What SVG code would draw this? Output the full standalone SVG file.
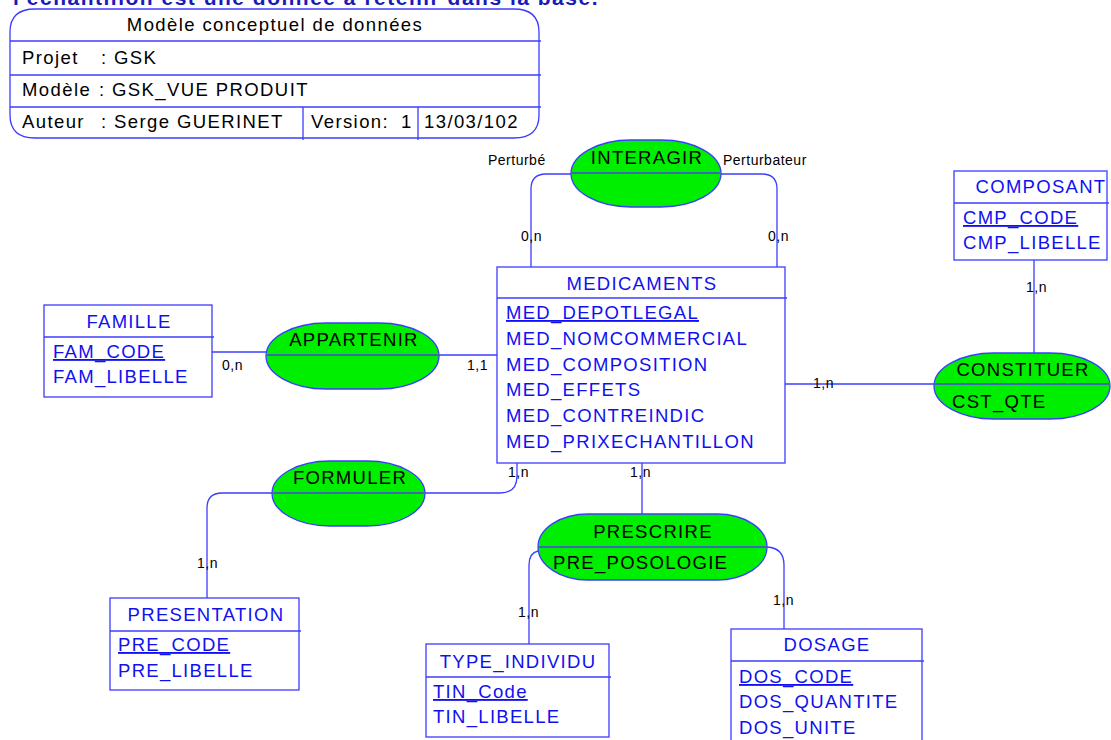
<svg xmlns="http://www.w3.org/2000/svg" width="1111" height="740" viewBox="0 0 1111 740">
<style>
text{font-family:"Liberation Sans",Arial,sans-serif}
.ent{fill:#fff;stroke:#3c3cff;stroke-width:1.3}
.sep{stroke:#3c3cff;stroke-width:1.3}
.et{font-size:18.5px;letter-spacing:1.3px;fill:#1010f0}
.mid{text-anchor:middle}
.pk{text-decoration:underline}
.rel{fill:#00ee00;stroke:#3c3cff;stroke-width:1.3}
.rsep{stroke:#3a6ab0;stroke-width:2}
.rt{font-size:18.5px;letter-spacing:1.3px;fill:#000}
.lnk{fill:none;stroke:#3c3cff;stroke-width:1.3}
.lbl{font-size:14px;letter-spacing:0.5px;fill:#000}
.tt{font-size:18.5px;letter-spacing:1.4px;fill:#000}
</style>
<text x="13" y="5" style="font-size:21px;font-weight:bold;letter-spacing:1.5px;fill:#1a1ab8">l'échantillon est une donnée à retenir dans la base.</text>
<g id="titre">
<path class="lnk" d="M35,9 H514 Q539,9 539,32 V115 Q539,138 514,138 H35 Q10,138 10,115 V32 Q10,9 35,9 Z"/>
<line class="sep" x1="10" y1="41" x2="541" y2="41"/>
<line class="sep" x1="10" y1="75" x2="541" y2="75"/>
<line class="sep" x1="10" y1="107" x2="541" y2="107"/>
<line class="sep" x1="303" y1="107" x2="303" y2="140"/>
<line class="sep" x1="418" y1="107" x2="418" y2="140"/>
<text class="tt mid" x="275" y="31">Modèle conceptuel de données</text>
<text class="tt" x="22" y="64">Projet</text>
<text class="tt" x="101" y="64">: GSK</text>
<text class="tt" x="22" y="96">Modèle</text>
<text class="tt" x="99" y="96">: GSK_VUE PRODUIT</text>
<text class="tt" x="22" y="128">Auteur</text>
<text class="tt" x="101" y="128">: Serge GUERINET</text>
<text class="tt" x="311" y="128">Version:</text>
<text class="tt" x="401" y="128">1</text>
<text class="tt" x="424" y="128">13/03/102</text>
</g>
<g id="connecteurs">
<path class="lnk" d="M571,174 H546 Q531,174 531,189 V267"/>
<path class="lnk" d="M721,174 H762 Q777,174 777,189 V267"/>
<path class="lnk" d="M212,352 H266"/>
<path class="lnk" d="M439,355 H497"/>
<path class="lnk" d="M785,384 H934"/>
<path class="lnk" d="M1034,260 V353"/>
<path class="lnk" d="M272,493 H222 Q207,493 207,508 V598"/>
<path class="lnk" d="M425,493 H500 Q517,493 517,476 V463"/>
<path class="lnk" d="M642,463 V514"/>
<path class="lnk" d="M538,551 Q529,553 529,565 V644"/>
<path class="lnk" d="M767,547 Q784,548 784,565 V629"/>
<text class="lbl" x="488" y="165">Perturbé</text>
<text class="lbl" x="723" y="165">Perturbateur</text>
<text class="lbl" x="521" y="241">0,n</text>
<text class="lbl" x="768" y="241">0,n</text>
<text class="lbl" x="222" y="370">0,n</text>
<text class="lbl" x="467" y="370">1,1</text>
<text class="lbl" x="1026" y="292">1,n</text>
<text class="lbl" x="813" y="388">1,n</text>
<text class="lbl" x="508" y="477">1,n</text>
<text class="lbl" x="630" y="477">1,n</text>
<text class="lbl" x="197" y="568">1,n</text>
<text class="lbl" x="518" y="617">1,n</text>
<text class="lbl" x="773" y="605">1,n</text>
</g>
<g id="INTERAGIR">
<rect class="rel" x="571" y="140" width="150" height="67" rx="60" ry="33.5"/>
<line class="rsep" x1="571" y1="173" x2="721" y2="173"/>
<text class="rt mid" x="647" y="164">INTERAGIR</text>
</g>
<g id="APPARTENIR">
<rect class="rel" x="266" y="323" width="173" height="66" rx="60" ry="33"/>
<line class="rsep" x1="266" y1="355" x2="439" y2="355"/>
<text class="rt mid" x="354" y="346">APPARTENIR</text>
</g>
<g id="FORMULER">
<rect class="rel" x="272" y="461" width="153" height="65" rx="58" ry="32.5"/>
<line class="rsep" x1="272" y1="493" x2="425" y2="493"/>
<text class="rt mid" x="350" y="484">FORMULER</text>
</g>
<g id="CONSTITUER">
<rect class="rel" x="934" y="353" width="176" height="66" rx="60" ry="33"/>
<line class="rsep" x1="934" y1="384" x2="1110" y2="384"/>
<text class="rt mid" x="1023" y="376">CONSTITUER</text>
<text class="rt" x="952" y="408">CST_QTE</text>
</g>
<g id="PRESCRIRE">
<rect class="rel" x="538" y="514" width="229" height="66" rx="50" ry="33"/>
<line class="rsep" x1="538" y1="547" x2="767" y2="547"/>
<text class="rt mid" x="653" y="538">PRESCRIRE</text>
<text class="rt" x="553" y="569">PRE_POSOLOGIE</text>
</g>
<g id="COMPOSANT">
<rect class="ent" x="954" y="171" width="153" height="89"/>
<line class="sep" x1="954" y1="203" x2="1109" y2="203"/>
<text class="et mid" x="1041" y="193">COMPOSANT</text>
<text class="et pk" x="963" y="224">CMP_CODE</text>
<text class="et" x="963" y="249">CMP_LIBELLE</text>
</g>
<g id="FAMILLE">
<rect class="ent" x="44" y="305" width="168" height="92"/>
<line class="sep" x1="44" y1="337" x2="214" y2="337"/>
<text class="et mid" x="129" y="328">FAMILLE</text>
<text class="et pk" x="53" y="358">FAM_CODE</text>
<text class="et" x="53" y="383">FAM_LIBELLE</text>
</g>
<g id="MEDICAMENTS">
<rect class="ent" x="497" y="267" width="288" height="196"/>
<line class="sep" x1="497" y1="298" x2="787" y2="298"/>
<text class="et mid" x="642" y="290">MEDICAMENTS</text>
<text class="et pk" x="506" y="319">MED_DEPOTLEGAL</text>
<text class="et" x="506" y="345">MED_NOMCOMMERCIAL</text>
<text class="et" x="506" y="371">MED_COMPOSITION</text>
<text class="et" x="506" y="396">MED_EFFETS</text>
<text class="et" x="506" y="422">MED_CONTREINDIC</text>
<text class="et" x="506" y="448">MED_PRIXECHANTILLON</text>
</g>
<g id="PRESENTATION">
<rect class="ent" x="110" y="598" width="189" height="92"/>
<line class="sep" x1="110" y1="631" x2="301" y2="631"/>
<text class="et mid" x="206" y="621">PRESENTATION</text>
<text class="et pk" x="118" y="651">PRE_CODE</text>
<text class="et" x="118" y="677">PRE_LIBELLE</text>
</g>
<g id="TYPE_INDIVIDU">
<rect class="ent" x="426" y="644" width="183" height="93"/>
<line class="sep" x1="426" y1="677" x2="611" y2="677"/>
<text class="et mid" x="518" y="668">TYPE_INDIVIDU</text>
<text class="et pk" x="433" y="698">TIN_Code</text>
<text class="et" x="433" y="723">TIN_LIBELLE</text>
</g>
<g id="DOSAGE">
<rect class="ent" x="731" y="629" width="191" height="120"/>
<line class="sep" x1="731" y1="661" x2="924" y2="661"/>
<text class="et mid" x="827" y="651">DOSAGE</text>
<text class="et pk" x="739" y="683">DOS_CODE</text>
<text class="et" x="739" y="708">DOS_QUANTITE</text>
<text class="et" x="739" y="734">DOS_UNITE</text>
</g>
</svg>
